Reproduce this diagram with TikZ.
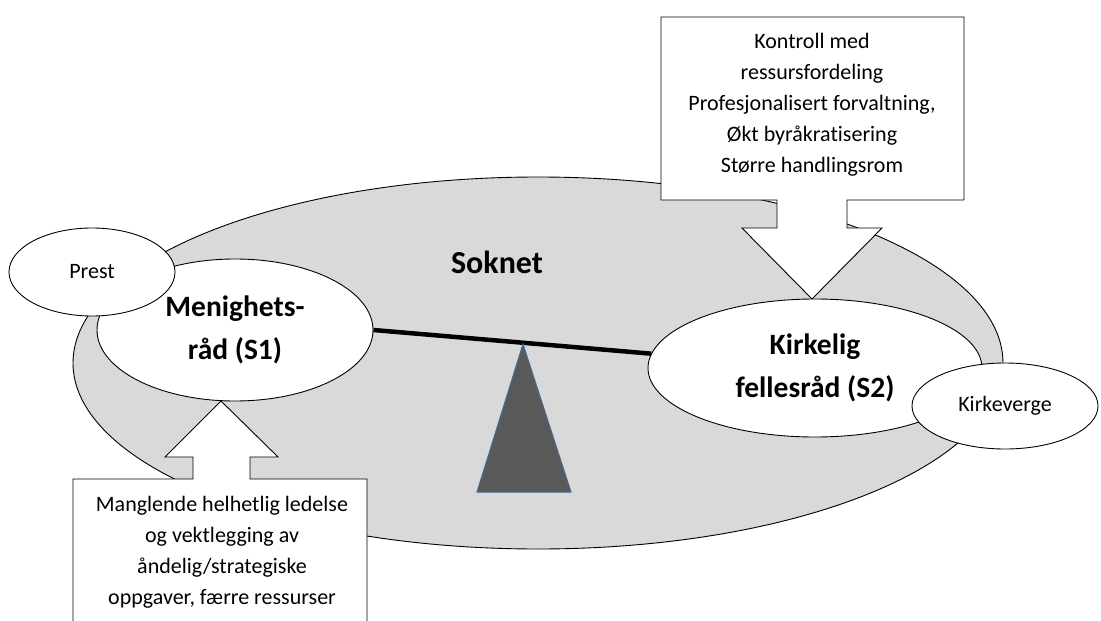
\documentclass[tikz,border=0pt]{standalone}
\usepackage{fontspec}
\setmainfont{Carlito}[Ligatures={NoCommon}]
\usetikzlibrary{shapes.geometric}
\definecolor{soknetgray}{HTML}{D9D9D9}
\definecolor{fulcrum}{HTML}{595959}
\definecolor{fulcrumline}{RGB}{70,105,150}
\tikzset{
  oval/.style={ellipse, draw=black, line width=0.9pt, fill=white, inner sep=0pt},
  bigtext/.style={font=\fontsize{29.5}{43}\selectfont\bfseries, align=center},
  smalltext/.style={font=\fontsize{22}{31}\selectfont, align=center},
  callout/.style={draw=black, line width=0.9pt, fill=white},
}
\begin{document}
\begin{tikzpicture}[x=1pt,y=-1pt]
\useasboundingbox (0,0) rectangle (1101,621);
\clip (0,0) rectangle (1101,621);
\fill[white] (0,0) rectangle (1101,621);

% Soknet (big grey ellipse)
\node[ellipse, draw=black, line width=0.9pt, fill=soknetgray, minimum width=930pt, minimum height=372pt, inner sep=0pt] (soknet) at (538,363) {};
\node[font=\fontsize{32}{38}\selectfont\bfseries] (soknetlabel) at (497,262) {Soknet};

% top callout
\draw[callout] (661,17) -- (964,17) -- (964,200) -- (847,200) -- (847,228) -- (882,228)
  -- (812,299) -- (742,228) -- (777,228) -- (777,200) -- (661,200) -- cycle;
\node[smalltext] (toptext) at (812,105) {Kontroll med\\ressursfordeling\\Profesjonalisert forvaltning,\\Økt byråkratisering\\Større handlingsrom};

% bottom callout
\draw[callout] (73,630) -- (73,479) -- (193,479) -- (193,457) -- (165,457) -- (221,401)
  -- (278,457) -- (250,457) -- (250,479) -- (367,479) -- (367,630);
\node[smalltext] (bottomtext) at (222,552) {Manglende helhetlig ledelse\\og vektlegging av\\åndelig/strategiske\\oppgaver, færre ressurser};

% councils
\node[oval, minimum width=276pt, minimum height=142pt, bigtext] (mr) at (235,330) {Menighets-\\råd (S1)};
\node[oval, minimum width=166pt, minimum height=88pt, smalltext] (prest) at (92,272) {Prest};
\node[oval, minimum width=334pt, minimum height=138pt, bigtext] (kf) at (815,368) {Kirkelig\\fellesråd (S2)};
\node[oval, minimum width=186pt, minimum height=86pt, smalltext] (kv) at (1005,406) {Kirkeverge};

% seesaw
\draw[line width=4.5pt] (mr.east) -- (kf.175);
\draw[fill=fulcrum, draw=fulcrumline, line width=1pt] (523,344) -- (571,492) -- (477,492) -- cycle;
\end{tikzpicture}
\end{document}
